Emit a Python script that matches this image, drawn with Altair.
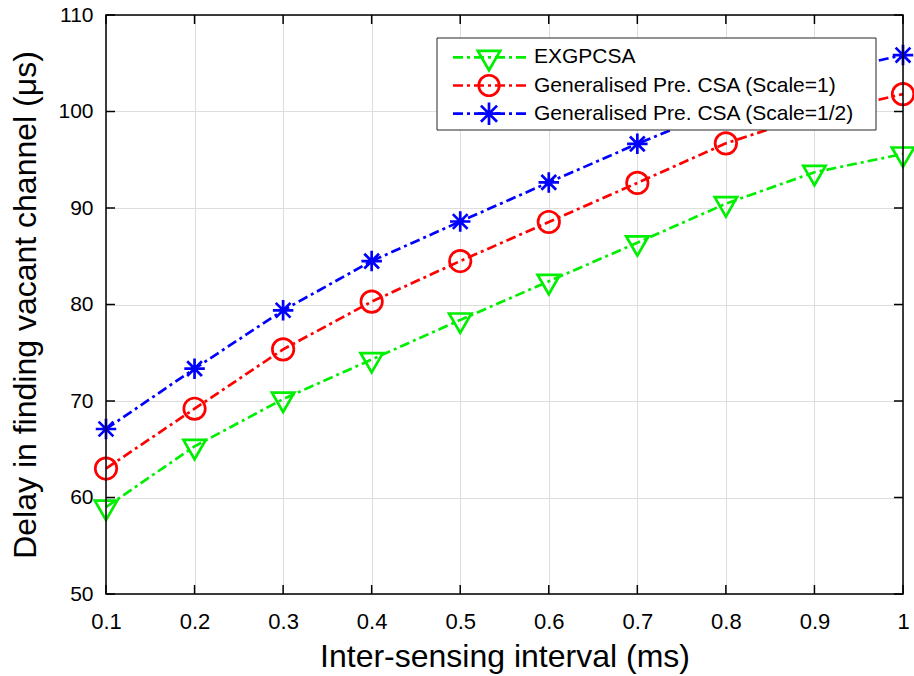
import altair as alt
import pandas as pd

# ---------------- data ----------------
x_vals = [0.1, 0.2, 0.3, 0.4, 0.5, 0.6, 0.7, 0.8, 0.9, 1.0]
exgpcsa = [59.0, 65.3, 70.2, 74.3, 78.4, 82.4, 86.4, 90.45, 93.7, 95.6]
gen_scale1 = [63.0, 69.2, 75.35, 80.3, 84.5, 88.55, 92.6, 96.7, 99.7, 101.8]
gen_scale_half = [67.1, 73.35, 79.4, 84.5, 88.6, 92.65, 96.65, 100.4, 103.8, 105.85]

series_names = ["EXGPCSA", "Generalised Pre. CSA (Scale=1)", "Generalised Pre. CSA (Scale=1/2)"]
series_values = [exgpcsa, gen_scale1, gen_scale_half]
series_colors = ["#00ee00", "#ff0000", "#0000ff"]

x_ticks = [0.1, 0.2, 0.3, 0.4, 0.5, 0.6, 0.7, 0.8, 0.9, 1.0]
y_ticks = [50, 60, 70, 80, 90, 100, 110]
x_domain = [0.1, 1.0]
y_domain = [50, 110]

x_title = "Inter-sensing interval (ms)"
y_title = "Delay in finding vacant channel (\u03bcs)"

# ---------------- style ----------------
FONT = "Liberation Sans"
W, H = 797, 579
TRI = "M-1,-0.577L1,-0.577L0,1.155Z"
AST = "M0,-1L0,1M-1,0L1,0M-0.72,-0.72L0.72,0.72M-0.72,0.72L0.72,-0.72"
series_shapes = [TRI, "circle", AST]
series_sizes = [500, 420, 500]
DASH = [10, 4, 3, 4]
LW = 2.7

rows = []
for name, vals in zip(series_names, series_values):
    for xv, yv in zip(x_vals, vals):
        rows.append({"x": xv, "y": yv, "series": name})
df = pd.DataFrame(rows)

xscale = alt.Scale(domain=x_domain, nice=False, zero=False)
yscale = alt.Scale(domain=y_domain, nice=False, zero=False)
cscale = alt.Scale(domain=series_names, range=series_colors)
sscale = alt.Scale(domain=series_names, range=series_shapes)
zscale = alt.Scale(domain=series_names, range=series_sizes)

x_axis = alt.Axis(values=x_ticks, format="~g", title=x_title, grid=True,
                  labelPadding=17, labelFlush=False, labelFontSize=22,
                  titleY=72, titleX=W / 2,
                  titleBaseline="alphabetic", titleFontSize=32)
y_axis = alt.Axis(values=y_ticks, title=y_title, grid=True,
                  labelPadding=13, labelFlush=False, labelFontSize=21,
                  titleX=-81, titleY=H / 2,
                  titleAlign="center", titleBaseline="middle",
                  titleFontSize=32)
X = alt.X("x:Q", scale=xscale, axis=x_axis)
Y = alt.Y("y:Q", scale=yscale, axis=y_axis)

base = alt.Chart(df)

lines = base.mark_line(strokeWidth=LW, strokeDash=DASH).encode(
    x=X, y=Y,
    color=alt.Color("series:N", scale=cscale, legend=None),
    detail="series:N",
    order="x:Q",
)

points = base.mark_point(filled=False, strokeWidth=LW, opacity=1).encode(
    x=X, y=Y,
    color=alt.Color("series:N", scale=cscale, legend=None),
    shape=alt.Shape("series:N", scale=sscale, legend=None),
    size=alt.Size("series:N", scale=zscale, legend=None),
)

# box frame
frame = alt.Chart(pd.DataFrame({"x": [x_domain[0]], "x2": [x_domain[1]],
                                "y": [y_domain[0]], "y2": [y_domain[1]]})).mark_rect(
    fill=None, fillOpacity=0, stroke="black", strokeWidth=1.5).encode(
    x=X, x2="x2:Q", y=Y, y2="y2:Q")

# inward ticks on all four sides (MATLAB box style)
tl_y = 9 * (y_domain[1] - y_domain[0]) / H
tl_x = 9 * (x_domain[1] - x_domain[0]) / W
tick_rows = []
for t in x_ticks:
    tick_rows.append({"x": t, "x2": t, "y": y_domain[0], "y2": y_domain[0] + tl_y})
    tick_rows.append({"x": t, "x2": t, "y": y_domain[1], "y2": y_domain[1] - tl_y})
for t in y_ticks:
    tick_rows.append({"x": x_domain[0], "x2": x_domain[0] + tl_x, "y": t, "y2": t})
    tick_rows.append({"x": x_domain[1], "x2": x_domain[1] - tl_x, "y": t, "y2": t})
ticks = alt.Chart(pd.DataFrame(tick_rows)).mark_rule(color="black", strokeWidth=1.5).encode(
    x=X, x2="x2:Q", y=Y, y2="y2:Q",
)

# manual legend (MATLAB-style box)
one = pd.DataFrame({"a": [0]})
legend_layers = [
    alt.Chart(one).mark_rect(fill="white", stroke="#262626", strokeWidth=1).encode(
        x=alt.value(331), x2=alt.value(770), y=alt.value(23), y2=alt.value(115))
]
for i, (name, col, shp, sz) in enumerate(zip(series_names, series_colors, series_shapes, series_sizes)):
    ry = 42.3 + 28.2 * i
    legend_layers.append(
        alt.Chart(one).mark_rule(color=col, strokeWidth=LW, strokeDash=DASH).encode(
            x=alt.value(347), x2=alt.value(420), y=alt.value(ry)))
    legend_layers.append(
        alt.Chart(one).mark_point(shape=shp, size=sz, filled=False, strokeWidth=LW,
                                  color=col, opacity=1).encode(
            x=alt.value(383), y=alt.value(ry)))
    legend_layers.append(
        alt.Chart(pd.DataFrame({"label": [name]})).mark_text(
            align="left", baseline="middle", fontSize=21, font=FONT, color="black").encode(
            x=alt.value(428), y=alt.value(ry), text="label:N"))

chart = alt.layer(lines, points, frame, ticks, *legend_layers).properties(
    width=W, height=H,
    padding={"left": 106, "top": 15, "right": 11, "bottom": 82},
    autosize=alt.AutoSizeParams(type="none"),
    background="white",
).configure_axis(
    labelFont=FONT, labelColor="black",
    titleFont=FONT, titleFontWeight="normal", titleColor="black",
    domain=False, ticks=False, gridColor="#dedede", gridWidth=1,
).configure_view(stroke=None)

chart.save("out.html", embed_options={"renderer": "svg", "actions": False})
